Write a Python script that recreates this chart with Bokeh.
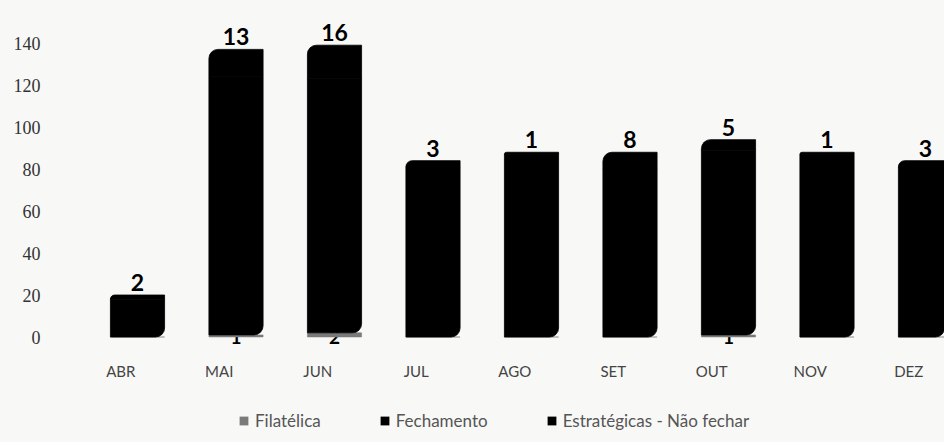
from bokeh.plotting import figure
from bokeh.layouts import column
from bokeh.models import (ColumnDataSource, Range1d, FixedTicker, Legend, LegendItem,
                          LabelSet, LinearAxis)
from bokeh.core.properties import value
from bokeh.embed import file_html
from bokeh.resources import INLINE

# ---- data ----
months = ["ABR", "MAI", "JUN", "JUL", "AGO", "SET", "OUT", "NOV", "DEZ"]
filatelica = [0, 1, 2, 0, 0, 0, 1, 0, 0]
fechamento = [18, 123, 121, 81, 87, 80, 88, 87, 81]
estrategicas = [2, 13, 16, 3, 1, 8, 5, 1, 3]
y_ticks = [0, 20, 40, 60, 80, 100, 120, 140]
series_names = ["Filatélica", "Fechamento", "Estratégicas - Não fechar"]
series_colors = ["#7a7a7a", "#000000", "#000000"]

xs = list(range(len(months)))
b1 = [f for f in filatelica]
b2 = [f + c for f, c in zip(filatelica, fechamento)]
tot = [f + c + e for f, c, e in zip(filatelica, fechamento, estrategicas)]

src = ColumnDataSource(dict(x=xs, fil=filatelica, fec=fechamento, est=estrategicas,
                            b1=b1, b2=b2, tot=tot,
                            est_lbl=[str(v) for v in estrategicas]))
fil_idx = [i for i, v in enumerate(filatelica) if v > 0]
fil_src = ColumnDataSource(dict(x=[xs[i] for i in fil_idx],
                                y=[0 for _ in fil_idx],
                                lbl=[str(filatelica[i]) for i in fil_idx]))

BG = "#f8f8f7"
x0, x1 = -0.8325, 8.193
p = figure(frame_width=889, frame_height=338, output_backend="svg", toolbar_location=None,
           x_range=Range1d(x0, x1), y_range=Range1d(-5, 156),
           x_axis_location=None, y_axis_location="left",
           min_border_left=55, min_border_right=0, min_border_top=9, min_border_bottom=50,
           background_fill_color=None, border_fill_color=None)
p.outline_line_color = None
p.xgrid.visible = False
p.ygrid.visible = False

# shifted range for month labels (labels sit left of the 3D bars)
p.extra_x_ranges = {"lab": Range1d(x0 + 0.17, x1 + 0.17)}
xax = LinearAxis(x_range_name="lab")
xax.ticker = FixedTicker(ticks=xs)
xax.major_label_overrides = {i: m for i, m in zip(xs, months)}
xax.axis_line_color = None
xax.major_tick_line_color = None
xax.minor_tick_line_color = None
xax.major_label_standoff = 8
xax.major_label_text_font = "Lato"
xax.major_label_text_font_size = "15px"
xax.major_label_text_color = "#444444"
p.add_layout(xax, "below")

yax = p.yaxis[0]
yax.ticker = FixedTicker(ticks=y_ticks)
yax.axis_line_color = None
yax.major_tick_line_color = None
yax.minor_tick_line_color = None
yax.major_label_standoff = 9
yax.major_label_text_font = "Liberation Serif"
yax.major_label_text_font_size = "18px"
yax.major_label_text_color = "#333333"

# Filatélica labels sit under the bars (only their lower part peeks out)
fil_labels = LabelSet(x="x", y="y", text="lbl", source=fil_src, level="underlay",
                      text_align="center", text_baseline="middle",
                      text_font=value("Lato"), text_font_style="bold",
                      text_font_size="19px", text_color="#000000")
p.add_layout(fil_labels)

W = 0.55
r_fil = p.vbar(x="x", bottom=0, top="b1", width=W, source=src,
               fill_color=series_colors[0], line_color=series_colors[0], line_width=0.5)
r_fec = p.vbar(x="x", bottom="b1", top="b2", width=W, source=src,
               fill_color=series_colors[1], line_color=series_colors[1], line_width=0.8,
               border_radius=[0, 0, 9, 0])
r_est = p.vbar(x="x", bottom="b2", top="tot", width=W, source=src,
               fill_color=series_colors[2], line_color=series_colors[2], line_width=0.8,
               border_radius=[9, 0, 0, 0])

est_labels = LabelSet(x="x", y="tot", text="est_lbl", source=src,
                      text_align="center", text_baseline="bottom", y_offset=4,
                      text_font=value("Lato"), text_font_style="bold",
                      text_font_size="23px", text_color="#000000")
p.add_layout(est_labels)

# ---- legend strip below the chart (swatch glyphs kept out of view) ----
pl = figure(width=944, height=45, output_backend="svg", toolbar_location=None,
            x_range=Range1d(0, 1), y_range=Range1d(0, 1),
            x_axis_location=None, y_axis_location=None,
            min_border=0, background_fill_color=None, border_fill_color=None)
pl.outline_line_color = None
pl.xgrid.visible = False
pl.ygrid.visible = False
swatch = ColumnDataSource(dict(x=[5], b=[0], t=[0]))
l_rs = [pl.vbar(x="x", bottom="b", top="t", width=W, source=swatch,
                fill_color=c, line_color=None, border_radius=2) for c in series_colors]

legend = Legend(items=[LegendItem(label=n, renderers=[r], index=0)
                       for n, r in zip(series_names, l_rs)],
                orientation="horizontal", location=(183, 11),
                glyph_width=11, glyph_height=11, label_standoff=6, spacing=58,
                label_text_font="Lato", label_text_font_size="17px",
                label_text_color="#555555", border_line_color=None,
                background_fill_alpha=0, margin=0, padding=4)
pl.add_layout(legend)

layout = column(p, pl, spacing=0, styles={"background-color": BG})
open("out.html", "w").write(file_html(layout, INLINE))
